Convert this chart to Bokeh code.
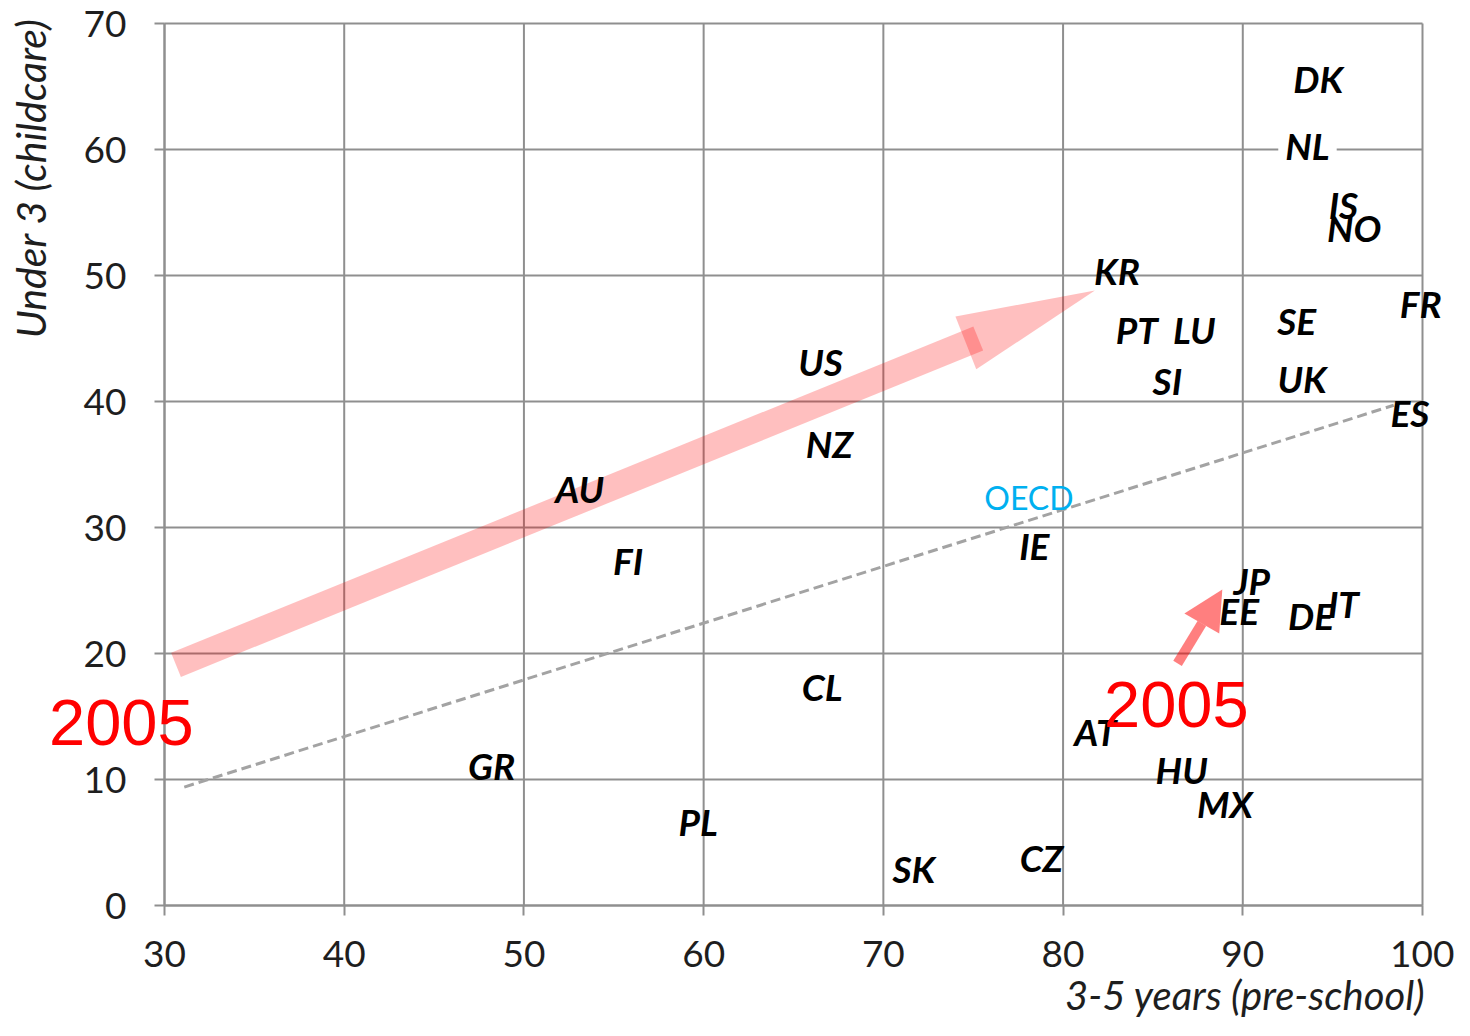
import math
from bokeh.plotting import figure
from bokeh.models import Range1d, FixedTicker, Label, ColumnDataSource
from bokeh.core.properties import value
from bokeh.embed import file_html
from bokeh.resources import INLINE

# ---- data ----
countries = ["DK", "NL", "IS", "NO", "KR", "PT", "LU", "SE", "FR", "SI", "UK", "ES",
             "US", "NZ", "AU", "IE", "FI", "JP", "EE", "DE", "IT", "CL", "AT", "GR",
             "HU", "MX", "PL", "CZ", "SK"]
preschool = [94.2, 93.6, 95.6, 96.2, 83.0, 84.1, 87.3, 93.0, 99.9, 85.8, 93.3, 99.3,
             66.5, 67.0, 53.1, 78.4, 55.8, 90.5, 89.8, 93.8, 95.6, 66.6, 81.8, 48.2,
             86.6, 89.0, 59.7, 78.8, 71.7]
childcare = [65.6, 60.3, 55.6, 53.8, 50.4, 45.7, 45.7, 46.4, 47.8, 41.7, 41.8, 39.1,
             43.2, 36.7, 33.1, 28.6, 27.4, 25.8, 23.4, 23.0, 24.0, 17.4, 13.8, 11.1,
             10.8, 8.1, 6.7, 3.8, 2.9]
oecd_x = [78.1]
oecd_y = [32.4]
trend_x = [31.1, 98.4]
trend_y = [9.4, 39.7]
x_ticks = [30, 40, 50, 60, 70, 80, 90, 100]
y_ticks = [0, 10, 20, 30, 40, 50, 60, 70]
X_MIN, X_MAX = 30, 100
Y_MIN, Y_MAX = 0, 70

# annotation arrows (data coordinates)
big_shaft = ([30.64], [19.10], [75.28], [45.0])
big_head_x = [74.01, 81.77, 75.17]
big_head_y = [46.75, 48.80, 42.56]
small_shaft = ([86.37], [19.22], [87.72], [22.38])
small_head_x = [86.75, 88.86, 88.69]
small_head_y = [23.17, 25.07, 21.59]

# ---- layout (pixels) ----
W, H = 1454, 1020
PX_X0, PX_X1 = 164, 1422      # canvas x of x=30 and x=100
PX_Y_TOP, PX_Y0 = 23, 905     # canvas y of y=70 and y=0
sx = (PX_X1 - PX_X0) / (X_MAX - X_MIN)
sy = (PX_Y0 - PX_Y_TOP) / (Y_MAX - Y_MIN)
x_start = X_MIN - PX_X0 / sx
x_end = x_start + W / sx
y_end = Y_MAX + PX_Y_TOP / sy
y_start = Y_MIN - (H - PX_Y0) / sy

GRID = "#8f8f8f"
TXT = "#1e1e1e"

p = figure(width=W, height=H, x_range=Range1d(x_start, x_end), y_range=Range1d(y_start, y_end),
           output_backend="svg", toolbar_location=None,
           min_border_left=0, min_border_right=0, min_border_top=0, min_border_bottom=0)
p.background_fill_color = "white"
p.border_fill_color = "white"
p.outline_line_color = None
p.xgrid.visible = False
p.ygrid.visible = False

for ax, ticks in ((p.xaxis, x_ticks), (p.yaxis, y_ticks)):
    ax.ticker = FixedTicker(ticks=ticks)
    ax.axis_line_color = GRID
    ax.axis_line_width = 2
    ax.major_tick_line_color = GRID
    ax.major_tick_line_width = 2
    ax.major_tick_out = 10
    ax.major_tick_in = 0
    ax.minor_tick_line_color = None
    ax.major_label_text_font = "Lato"
    ax.major_label_text_font_size = "37px"
    ax.major_label_text_color = TXT
p.xaxis.bounds = (X_MIN, X_MAX)
p.xaxis.fixed_location = Y_MIN
p.xaxis.major_label_standoff = 25
p.yaxis.bounds = (Y_MIN, Y_MAX)
p.yaxis.fixed_location = X_MIN
p.yaxis.major_label_standoff = 28

# grid lines limited to the data box
p.segment(x0=x_ticks, y0=[Y_MIN] * len(x_ticks), x1=x_ticks, y1=[Y_MAX] * len(x_ticks),
          line_color=GRID, line_width=2)
p.segment(x0=[X_MIN] * len(y_ticks), y0=y_ticks, x1=[X_MAX] * len(y_ticks), y1=y_ticks,
          line_color=GRID, line_width=2)

# trend line
p.line(trend_x, trend_y, line_color="#a3a3a3", line_width=3, line_dash="10 5")

# big arrow
p.segment(x0=big_shaft[0], y0=big_shaft[1], x1=big_shaft[2], y1=big_shaft[3],
          line_color="red", line_alpha=0.25, line_width=26)
p.patch(big_head_x, big_head_y, fill_color="red", fill_alpha=0.25, line_color=None)

# small arrow
p.segment(x0=small_shaft[0], y0=small_shaft[1], x1=small_shaft[2], y1=small_shaft[3],
          line_color="red", line_alpha=0.5, line_width=10)
p.patch(small_head_x, small_head_y, fill_color="red", fill_alpha=0.5, line_color=None)

# country labels
nl = countries.index("NL")
others = [i for i in range(len(countries)) if i != nl]
src_o = ColumnDataSource(dict(x=[preschool[i] for i in others], y=[childcare[i] for i in others],
                              t=[countries[i] for i in others]))
src_nl = ColumnDataSource(dict(x=[preschool[nl]], y=[childcare[nl]], t=[countries[nl]]))
p.text(x="x", y="y", text="t", source=src_nl, text_font=value("Lato"), text_font_size="37px",
       text_font_style="bold italic", text_color="black", text_align="center",
       text_baseline="middle", background_fill_color="white", padding=7)
p.text(x="x", y="y", text="t", source=src_o, text_font=value("Lato"), text_font_size="37px",
       text_font_style="bold italic", text_color="black", text_align="center",
       text_baseline="middle")
p.text(x=oecd_x, y=oecd_y, text=["OECD"], text_font=value("Lato"), text_font_size="32px",
       text_color="#00b0f0", text_align="center", text_baseline="middle")

# red year labels
p.add_layout(Label(x=27.6, y=14.5, text="2005", text_font="Liberation Sans", text_font_size="65px",
                   text_color="red", text_align="center", text_baseline="middle"))
p.add_layout(Label(x=86.3, y=15.94, text="2005", text_font="Liberation Sans", text_font_size="65px",
                   text_color="red", text_align="center", text_baseline="middle"))

# axis titles
p.add_layout(Label(x=X_MIN - (PX_X0 - 30) / sx, y=Y_MAX + 5 / sy, text="Under 3 (childcare)",
                   angle=math.pi / 2, text_font="Lato", text_font_style="italic",
                   text_font_size="41px", text_color=TXT, text_align="right",
                   text_baseline="middle"))
p.add_layout(Label(x=X_MAX + 3 / sx, y=Y_MIN - (994 - PX_Y0) / sy, text="3-5 years (pre-school)",
                   text_font="Lato", text_font_style="italic",
                   text_font_size="40px", text_color=TXT, text_align="right",
                   text_baseline="middle"))

open("out.html", "w").write(file_html(p, INLINE))
